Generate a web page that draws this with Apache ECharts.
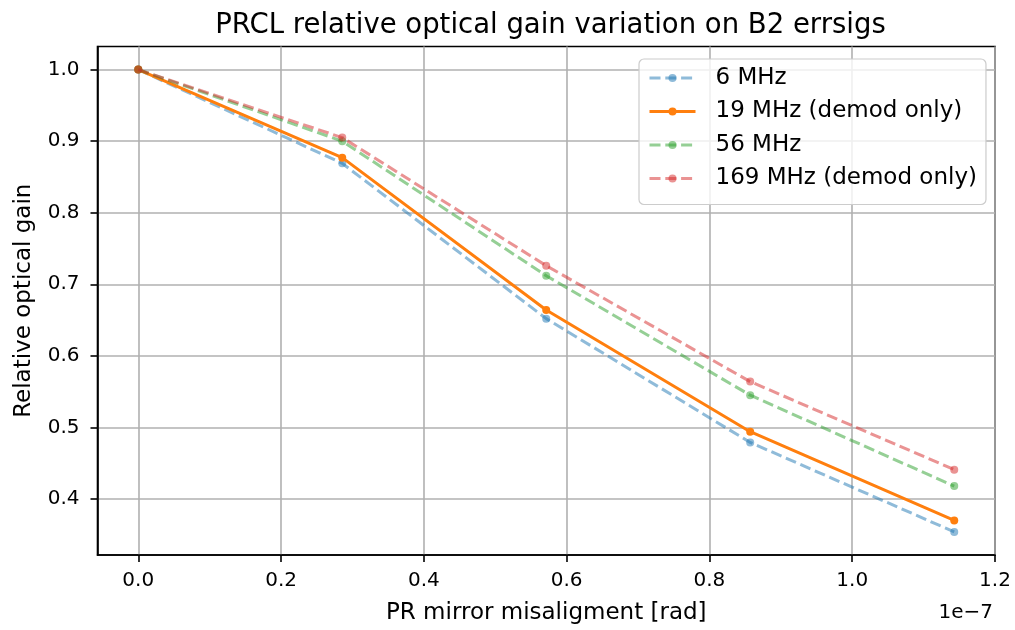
<!DOCTYPE html>
<html>
<head>
<meta charset="utf-8">
<script src="https://cdn.jsdelivr.net/npm/echarts@6/dist/echarts.min.js"></script>
<style>html,body{margin:0;padding:0;background:#fff}#c{width:1015px;height:630px}</style>
</head>
<body>
<div id="c"></div>
<script>
// x values in units of 1e-7 rad
const xValues = [0, 0.2857, 0.5714, 0.8571, 1.1429];
const seriesNames = ['6 MHz', '19 MHz (demod only)', '56 MHz', '169 MHz (demod only)'];
const gain6 = [1.0, 0.869, 0.652, 0.479, 0.354];
const gain19 = [1.0, 0.877, 0.664, 0.494, 0.370];
const gain56 = [1.0, 0.900, 0.712, 0.545, 0.418];
const gain169 = [1.0, 0.905, 0.726, 0.564, 0.441];
const xTicks = [0.0, 0.2, 0.4, 0.6, 0.8, 1.0, 1.2];
const yTicks = [0.4, 0.5, 0.6, 0.7, 0.8, 0.9, 1.0];

const FONT = 'DejaVu Sans';
const colors = ['#1f77b4', '#ff7f0e', '#2ca02c', '#d62728'];
const dashed = [true, false, true, true];
const alphas = [0.5, 1, 0.5, 0.5];
const allData = [gain6, gain19, gain56, gain169];

const series = allData.map((d, i) => ({
  name: seriesNames[i],
  type: 'line',
  data: d.map((v, j) => [xValues[j], v]),
  symbol: 'circle',
  symbolSize: 8,
  showSymbol: true,
  z: 2 + i,
  itemStyle: { color: colors[i], opacity: alphas[i] },
  lineStyle: { color: colors[i], width: 3, opacity: alphas[i], type: dashed[i] ? [11, 4.8] : 'solid' },
  emphasis: { disabled: true },
  animation: false
}));

const chart = echarts.init(document.getElementById('c'), null, { renderer: 'canvas' });
chart.setOption({
  animation: false,
  backgroundColor: '#fff',
  title: {
    text: 'PRCL relative optical gain variation on B2 errsigs',
    left: 545.5, top: 7, textAlign: 'center',
    textStyle: { fontFamily: FONT, fontSize: 27.5, fontWeight: 'normal', color: '#000' }
  },
  grid: {
    left: 97.5, right: 20, top: 46.5, bottom: 73,
    show: true, borderColor: '#000', borderWidth: 1.6, backgroundColor: 'transparent'
  },
  legend: {
    orient: 'vertical',
    left: 639, top: 59,
    padding: [7, 9, 14, 9],
    itemWidth: 46, itemHeight: 10, itemGap: 9.5,
    backgroundColor: 'rgba(255,255,255,0.8)',
    borderColor: '#cccccc', borderWidth: 1.2, borderRadius: 5,
    lineStyle: { width: 3 },
    textStyle: { fontFamily: FONT, fontSize: 23, lineHeight: 24, color: '#000', padding: [0, 0, 0, 15] },
    data: seriesNames
  },
  xAxis: {
    type: 'value', min: -0.0571, max: 1.2,
    name: 'PR mirror misaligment [rad]', nameLocation: 'middle', nameGap: 47,
    nameTextStyle: { fontFamily: FONT, fontSize: 23, color: '#000' },
    axisLine: { show: true, onZero: false, lineStyle: { color: '#000', width: 1.6 } },
    axisTick: { show: true, length: 7, lineStyle: { color: '#000', width: 1.6 }, customValues: xTicks },
    axisLabel: { fontFamily: FONT, fontSize: 20, color: '#000', margin: 16, customValues: xTicks,
      formatter: v => v.toFixed(1) },
    splitLine: { show: true, lineStyle: { color: '#b0b0b0', width: 1.6 } }
  },
  yAxis: {
    type: 'value', min: 0.3217, max: 1.0323,
    name: 'Relative optical gain', nameLocation: 'middle', nameGap: 62, nameRotate: 90,
    nameTextStyle: { fontFamily: FONT, fontSize: 23, color: '#000' },
    axisLine: { show: true, onZero: false, lineStyle: { color: '#000', width: 1.6 } },
    axisTick: { show: true, length: 7, lineStyle: { color: '#000', width: 1.6 }, customValues: yTicks },
    axisLabel: { fontFamily: FONT, fontSize: 20, color: '#000', margin: 18, customValues: yTicks,
      formatter: v => v.toFixed(1) },
    splitLine: { show: true, lineStyle: { color: '#b0b0b0', width: 1.6 } }
  },
  graphic: [{
    type: 'text', x: 993, y: 613,
    style: { text: '1e\u22127', fontFamily: FONT, fontSize: 20, fill: '#000', align: 'right', verticalAlign: 'middle' }
  }],
  series: series
});
</script>
</body>
</html>
